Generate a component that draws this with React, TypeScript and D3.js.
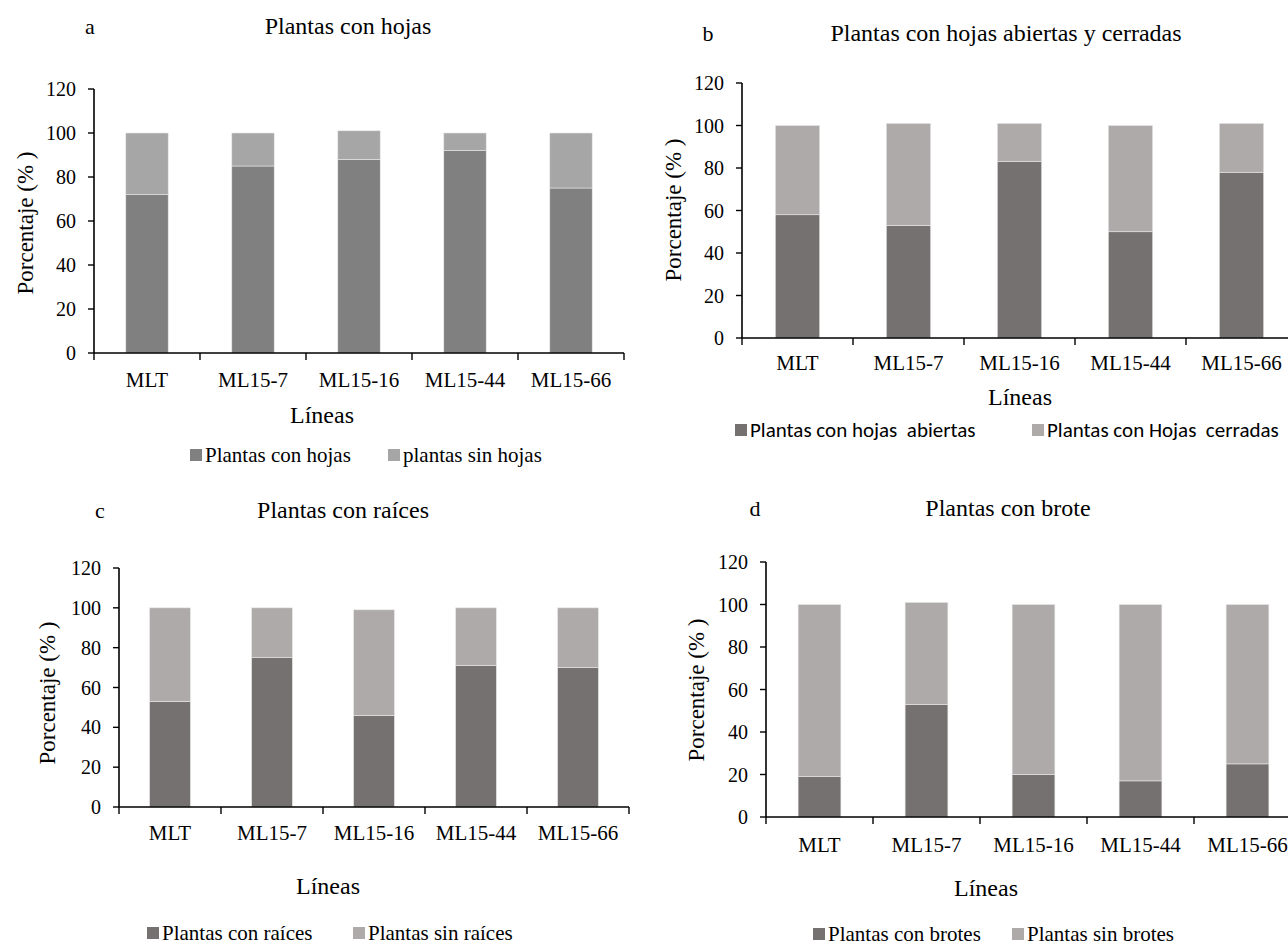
import React from 'react';
import * as d3 from 'd3';

// categories and values
const categories = ['MLT', 'ML15-7', 'ML15-16', 'ML15-44', 'ML15-66'];
const hojasCon = [72, 85, 88, 92, 75];
const hojasSin = [28, 15, 13, 8, 25];
const abiertas = [58, 53, 83, 50, 78];
const cerradas = [42, 48, 18, 50, 23];
const raicesCon = [53, 75, 46, 71, 70];
const raicesSin = [47, 25, 53, 29, 30];
const brotesCon = [19, 53, 20, 17, 25];
const brotesSin = [81, 48, 80, 83, 75];
const yTicks = [0, 20, 40, 60, 80, 100, 120];

const SERIF = "'Liberation Serif'";
const SANS = "'Carlito'";

const panels = [
  {
    letter: 'a', title: 'Plantas con hojas', bottom: hojasCon, top: hojasSin,
    names: ['Plantas con hojas', 'plantas sin hojas'], colors: ['#808080', '#a6a6a6'],
    x0: 94, x1: 624, y0: 353, y1: 89, titleX: 348, titleY: 26, letterX: 90,
    catY: 380, lineasX: 322, lineasY: 415, ylabX: 25, ylabY: 223,
    legY: 455, leg: [190, 388], legFont: SERIF, legSize: 21,
  },
  {
    letter: 'b', title: 'Plantas con hojas abiertas y cerradas', bottom: abiertas, top: cerradas,
    names: ['Plantas con hojas  abiertas', 'Plantas con Hojas  cerradas'], colors: ['#767171', '#aeaaaa'],
    x0: 742, x1: 1297, y0: 338, y1: 83, titleX: 1006, titleY: 33, letterX: 708,
    catY: 363, lineasX: 1020, lineasY: 397, ylabX: 673, ylabY: 210,
    legY: 430, leg: [735, 1032], legFont: SANS, legSize: 21,
  },
  {
    letter: 'c', title: 'Plantas con raíces', bottom: raicesCon, top: raicesSin,
    names: ['Plantas con raíces', 'Plantas sin raíces'], colors: ['#767171', '#aeaaaa'],
    x0: 119, x1: 629, y0: 807, y1: 568, titleX: 343, titleY: 510, letterX: 100,
    catY: 833, lineasX: 328, lineasY: 886, ylabX: 47, ylabY: 693,
    legY: 933, leg: [147, 353], legFont: SERIF, legSize: 21,
  },
  {
    letter: 'd', title: 'Plantas con brote', bottom: brotesCon, top: brotesSin,
    names: ['Plantas con brotes', 'Plantas sin brotes'], colors: ['#767171', '#aeaaaa'],
    x0: 766, x1: 1301, y0: 817, y1: 562, titleX: 1008, titleY: 508, letterX: 755,
    catY: 845, lineasX: 986, lineasY: 888, ylabX: 696, ylabY: 690,
    legY: 934, leg: [813, 1012], legFont: SERIF, legSize: 21,
  },
];

const Panel = ({ p }: { p: any }) => {
  const x = d3.scaleBand()
    .domain(categories)
    .range([p.x0, p.x1])
    .paddingInner(0.6)
    .paddingOuter(0.3);
  const y = d3.scaleLinear().domain([0, 120]).range([p.y0, p.y1]);
  const xl = d3.scaleBand().domain(categories).range([p.x0, p.x1]);
  const xb = d3.scaleLinear().domain([0, categories.length]).range([p.x0, p.x1]);

  const rows = categories.map((c, i) => ({ cat: c, a: p.bottom[i], b: p.top[i] }));
  const stack = d3.stack<any>().keys(['a', 'b'])(rows);
  const serif = { fontFamily: SERIF };

  return (
    <g>
      {stack.map((layer, li) =>
        layer.map((d: any) => (
          <rect
            key={`${li}-${d.data.cat}`}
            x={x(d.data.cat)}
            y={y(d[1])}
            width={x.bandwidth()}
            height={y(d[0]) - y(d[1])}
            fill={p.colors[li]}
            stroke="#e8e8e8"
            strokeWidth={0.6}
          />
        ))
      )}

      {/* y axis */}
      <line x1={p.x0} x2={p.x0} y1={y(0)} y2={y(120)} stroke="#000" strokeWidth={1.6} />
      {yTicks.map(t => (
        <g key={t}>
          <line x1={p.x0 - 6} x2={p.x0} y1={y(t)} y2={y(t)} stroke="#000" strokeWidth={1.4} />
          <text x={p.x0 - 18} y={y(t)} dy="0.35em" textAnchor="end" style={{ ...serif, fontSize: 20 }}>{t}</text>
        </g>
      ))}

      {/* x axis, ticks between categories */}
      <line x1={p.x0} x2={p.x1} y1={p.y0} y2={p.y0} stroke="#000" strokeWidth={1.6} />
      {d3.range(categories.length + 1).map(i => (
        <line key={i} x1={xb(i)} x2={xb(i)} y1={p.y0} y2={p.y0 + 7} stroke="#000" strokeWidth={1.4} />
      ))}
      {categories.map(c => (
        <text key={c} x={(xl(c) as number) + xl.bandwidth() / 2} y={p.catY} dy="0.35em" textAnchor="middle"
          style={{ ...serif, fontSize: 21 }}>{c}</text>
      ))}

      <text x={p.titleX} y={p.titleY} dy="0.35em" textAnchor="middle" style={{ ...serif, fontSize: 24 }}>{p.title}</text>
      <text x={p.letterX} y={p.titleY} dy="0.35em" textAnchor="middle" style={{ ...serif, fontSize: 22 }}>{p.letter}</text>
      <text x={p.lineasX} y={p.lineasY} dy="0.35em" textAnchor="middle" style={{ ...serif, fontSize: 24 }}>Líneas</text>
      <text transform={`translate(${p.ylabX},${p.ylabY}) rotate(-90)`} dy="0.35em" textAnchor="middle"
        style={{ ...serif, fontSize: 23 }}>Porcentaje (% )</text>

      {p.names.map((name: string, i: number) => (
        <g key={name}>
          <rect x={p.leg[i]} y={p.legY - 6} width={12} height={12} fill={p.colors[i]} />
          <text x={p.leg[i] + 15} y={p.legY} dy="0.35em"
            style={{ fontFamily: p.legFont, fontSize: p.legSize, whiteSpace: 'pre' }}>{name}</text>
        </g>
      ))}
    </g>
  );
};

const App = () => (
  <div id="chart-container">
    <svg width={1288} height={946} style={{ position: 'absolute', left: 0, top: 0, background: '#fff' }}>
      {panels.map(p => <Panel key={p.letter} p={p} />)}
    </svg>
  </div>
);

export default App;
